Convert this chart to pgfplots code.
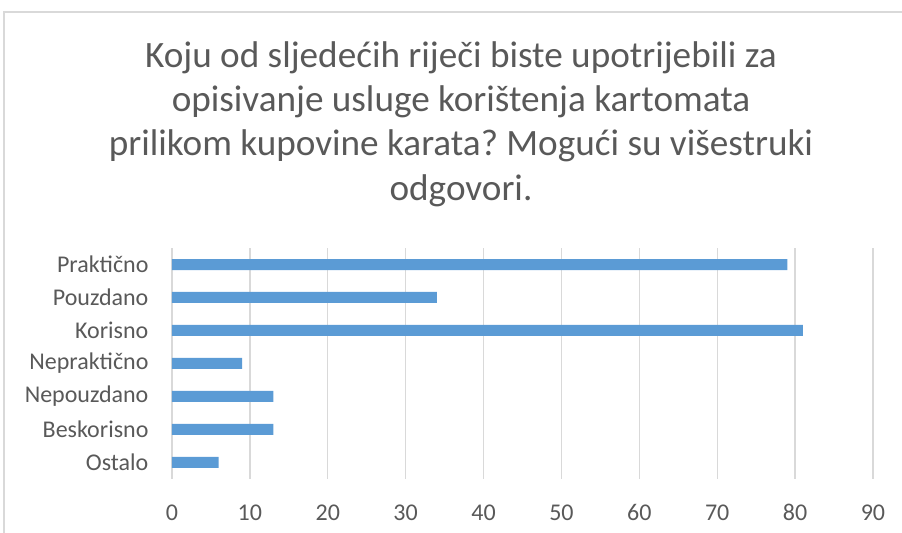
\documentclass[border=0pt]{standalone}
\usepackage{pgfplots}
\pgfplotsset{compat=1.18}
\usepackage{fontspec}
\setmainfont{Carlito}
\definecolor{barblue}{HTML}{5B9BD5}
\definecolor{txtgray}{HTML}{595959}
\definecolor{gridgray}{HTML}{D9D9D9}
\frenchspacing
\begin{document}
\begin{tikzpicture}
\useasboundingbox (0,0) rectangle (451pt,-266.5pt);
\draw[gridgray, line width=0.6pt] (2pt,-270pt) -- (2pt,-6pt) -- (455pt,-6pt);
\node[align=center, text=txtgray, font=\fontsize{18.6pt}{22.2pt}\selectfont] at (230.5pt,-62pt)
{Koju od sljedećih riječi biste upotrijebili za\\opisivanje usluge korištenja kartomata\\prilikom kupovine karata? Mogući su višestruki\\odgovori.};
\begin{axis}[
  at={(86pt,-239.5pt)}, anchor=south west,
  scale only axis, width=350.5pt, height=115.5pt,
  xbar, bar width=5.5pt,
  xmin=0, xmax=90, ymin=-0.5, ymax=6.5,
  xtick={0,10,...,90},
  ytick={0,1,2,3,4,5,6},
  yticklabels={Ostalo,Beskorisno,Nepouzdano,Nepraktično,Korisno,Pouzdano,Praktično},
  xmajorgrids, grid style={gridgray, line width=0.7pt},
  axis line style={draw=none}, tick style={draw=none},
  ticklabel style={text=txtgray, font=\fontsize{12pt}{14pt}\selectfont},
  /pgf/number format/assume math mode=true,
  xticklabel style={yshift=-8.5pt, text height=8.5pt, text depth=0pt},
  yticklabel style={xshift=-4pt},
]
\addplot[fill=barblue, draw=none] coordinates {
(6,0) (13,1) (13,2) (9,3) (81,4) (34,5) (79,6)};
\end{axis}
\end{tikzpicture}
\end{document}
